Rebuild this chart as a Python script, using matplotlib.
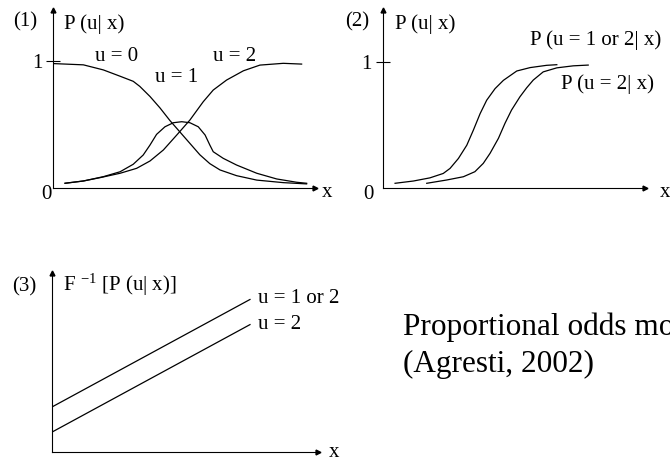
import matplotlib
matplotlib.use("Agg")
import matplotlib.pyplot as plt

plt.rcParams['font.family'] = ['Liberation Serif', 'DejaVu Serif']
plt.rcParams['mathtext.fontset'] = 'custom'
plt.rcParams['mathtext.rm'] = 'Liberation Serif'
plt.rcParams['mathtext.it'] = 'Liberation Serif:italic'

# panel (1): P(u|x) for each category, x on 0..10
x_u0 = [0.02, 1.17, 1.93, 2.57, 3.07, 3.32, 3.71, 4.09, 4.47, 4.85, 5.23,
        5.61, 5.99, 6.38, 7.01, 7.78, 8.79, 9.68]
p_u0 = [0.98, 0.97, 0.93, 0.88, 0.84, 0.80, 0.72, 0.63, 0.53, 0.44, 0.35,
        0.26, 0.19, 0.14, 0.095, 0.06, 0.04, 0.03]
x_u1 = [0.47, 1.17, 1.93, 2.57, 3.07, 3.45, 3.71, 3.96, 4.28, 4.60, 4.92,
        5.23, 5.55, 5.81, 5.99, 6.12, 6.50, 7.01, 7.78, 8.54, 9.30, 9.68]
p_u1 = [0.035, 0.053, 0.087, 0.126, 0.185, 0.258, 0.337, 0.421, 0.481, 0.513,
        0.521, 0.513, 0.481, 0.416, 0.337, 0.284, 0.232, 0.179, 0.114, 0.069,
        0.043, 0.035]
x_u2 = [0.47, 1.17, 1.80, 2.57, 3.20, 3.71, 4.22, 4.73, 5.23, 5.74, 6.12,
        6.63, 7.27, 7.90, 8.79, 9.49]
p_u2 = [0.035, 0.053, 0.079, 0.114, 0.153, 0.211, 0.298, 0.416, 0.534, 0.679,
        0.771, 0.850, 0.923, 0.968, 0.982, 0.976]

# panel (2): cumulative probabilities
x_ge1 = [0.45, 1.15, 1.78, 2.29, 2.55, 2.87, 3.19, 3.44, 3.70, 3.95, 4.27,
         4.59, 5.10, 5.61, 6.24, 6.63]
p_ge1 = [0.035, 0.053, 0.078, 0.113, 0.153, 0.232, 0.337, 0.456, 0.588, 0.694,
         0.786, 0.852, 0.926, 0.953, 0.971, 0.976]
x_ge2 = [1.66, 2.42, 3.06, 3.50, 3.82, 4.08, 4.40, 4.65, 4.90, 5.22, 5.48,
         5.73, 6.11, 6.63, 7.26, 7.83]
p_ge2 = [0.035, 0.061, 0.087, 0.127, 0.193, 0.273, 0.392, 0.511, 0.616, 0.721,
         0.793, 0.854, 0.919, 0.951, 0.967, 0.973]

# panel (3): linked cumulative probabilities (straight, parallel lines)
x_link = [0.0, 7.44]
f_ge1 = [2.18, 7.39]
f_ge2 = [0.96, 6.17]

W, H = 670, 462
fig = plt.figure(figsize=(W / 100, H / 100), dpi=100)


def box(left, top, right, bottom):
    return [left / W, 1 - bottom / H, (right - left) / W, (bottom - top) / H]


def put(x, y, s, size=15, ha='left'):
    fig.text(x / W, 1 - y / H, s, fontsize=size, ha=ha, va='baseline')


def arrow_axes(ax, xmax, ymax, one=None, pad=2.5):
    ax.set_xlim(0, xmax)
    ax.set_ylim(0, ymax)
    ax.patch.set_alpha(0)
    for side in ['top', 'right']:
        ax.spines[side].set_visible(False)
    for side in ['left', 'bottom']:
        ax.spines[side].set_linewidth(0.8)
    ax.set_xticks([])
    if one is None:
        ax.set_yticks([])
    else:
        ax.set_yticks([1])
        ax.set_yticklabels([one], fontsize=15)
        ax.tick_params(axis='y', direction='inout', length=10, width=0.8,
                       pad=pad)
    ax.plot(1, 0, '>k', ms=3.5, transform=ax.transAxes, clip_on=False)
    ax.plot(0, 1, '^k', ms=3.5, transform=ax.transAxes, clip_on=False)


lw = 0.9

ax1 = fig.add_axes(box(52.7, 10, 315, 187.7))
arrow_axes(ax1, 10, 1.403, one='1', pad=2.0)
ax1.plot(x_u0, p_u0, color='black', lw=lw)
ax1.plot(x_u1, p_u1, color='black', lw=lw)
ax1.plot(x_u2, p_u2, color='black', lw=lw)

ax2 = fig.add_axes(box(383.3, 10, 645, 187.7))
arrow_axes(ax2, 10, 1.41, one='1', pad=3.5)
ax2.plot(x_ge1, p_ge1, color='black', lw=lw)
ax2.plot(x_ge2, p_ge2, color='black', lw=lw)

ax3 = fig.add_axes(box(52.3, 272.5, 318, 451.7))
arrow_axes(ax3, 10, 8.7)
ax3.plot(x_link, f_ge1, color='black', lw=lw)
ax3.plot(x_link, f_ge2, color='black', lw=lw)

# panel (1) text
put(13, 26, '(1)')
put(64, 29, 'P (u| x)')
put(95, 61, 'u = 0')
put(155, 82, 'u = 1')
put(213, 61, 'u = 2')
put(46, 199, '0', ha='center')
put(322, 197, 'x')

# panel (2) text
put(345, 26, '(2)')
put(395, 29, 'P (u| x)')
put(530, 45, 'P (u = 1 or 2| x)')
put(561, 89, 'P (u = 2| x)')
put(368, 199, '0', ha='center')
put(660, 197, 'x')

# panel (3) text
put(12, 291, '(3)')
put(63, 291, r'F $^{\mathrm{-1}}$ [P (u| x)]')
put(258, 303, 'u = 1 or 2')
put(258, 329, 'u = 2')
put(329, 457, 'x')

put(403, 335, 'Proportional odds model', size=22.5)
put(403, 372, '(Agresti, 2002)', size=22.5)

fig.savefig('out.png', dpi=100)
